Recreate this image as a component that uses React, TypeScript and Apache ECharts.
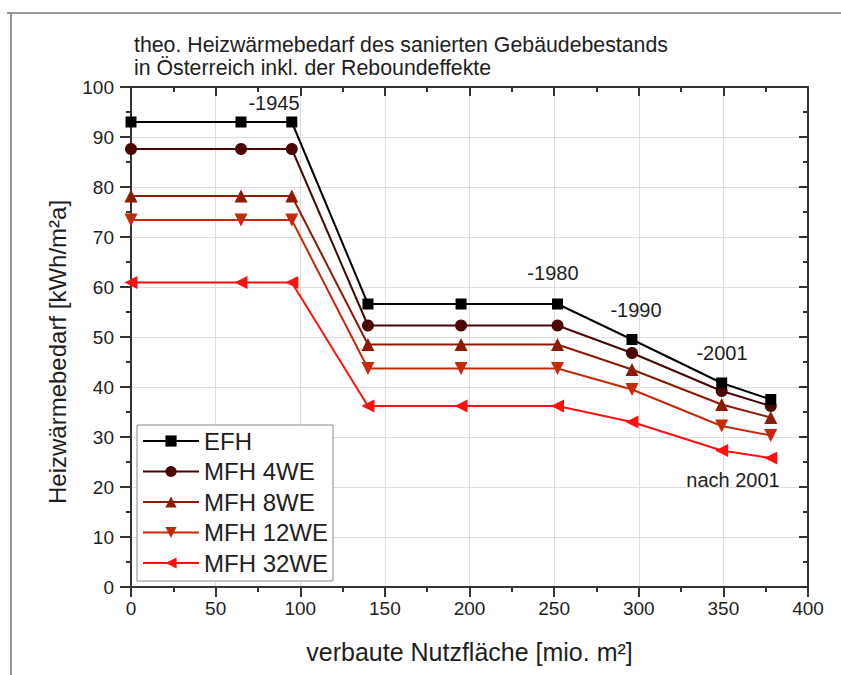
import React, { useEffect, useRef } from "react";
import * as echarts from "echarts";

const xValues = [0, 65, 95, 140, 195, 252, 296, 349, 378];
const seriesNames = ["EFH", "MFH 4WE", "MFH 8WE", "MFH 12WE", "MFH 32WE"];
const efh = [93, 93, 93, 56.6, 56.6, 56.6, 49.5, 40.8, 37.5];
const mfh4 = [87.6, 87.6, 87.6, 52.3, 52.3, 52.3, 46.8, 39.2, 36.2];
const mfh8 = [78.2, 78.2, 78.2, 48.5, 48.5, 48.5, 43.5, 36.5, 33.9];
const mfh12 = [73.4, 73.4, 73.4, 43.7, 43.7, 43.7, 39.5, 32.2, 30.3];
const mfh32 = [60.9, 60.9, 60.9, 36.2, 36.2, 36.2, 33.0, 27.3, 25.8];
const annoLabels = ["-1945", "-1980", "-1990", "-2001", "nach 2001"];
const annoX = [84.5, 249.3, 298.4, 349.2, 355.7];
const annoY = [96.8, 62.8, 55.4, 46.8, 21.4];

const FONT = "'Liberation Sans', Arial, Helvetica, sans-serif";
const TXT = "#1e1e1e";

export default function App() {
  const ref = useRef<HTMLDivElement>(null);
  useEffect(() => {
    if (!ref.current) return;
    const chart = echarts.init(ref.current, undefined, { renderer: "svg" });
    const colors = ["#000000", "#4a0505", "#8c1a05", "#c42a0a", "#ff1010"];
    const symbols = [
      "rect",
      "circle",
      "path://M5,0 L10,10 L0,10 Z",
      "path://M0,0 L10,0 L5,10 Z",
      "path://M0,5 L10,0 L10,10 Z",
    ];
    const sizes = [11, 12, 13, 13, 13];
    const values = [efh, mfh4, mfh8, mfh12, mfh32];
    const lineSeries = seriesNames.map((name, i) => ({
      name,
      type: "line",
      data: xValues.map((x, j) => [x, values[i][j]]),
      symbol: symbols[i],
      symbolSize: sizes[i],
      color: colors[i],
      lineStyle: { width: 2, color: colors[i] },
      itemStyle: { color: colors[i] },
      z: 10 - i,
      clip: false,
    }));
    const tickStyle = { color: "#333", width: 2 };
    const axisCommon = {
      type: "value",
      axisLine: { show: true, onZero: false, lineStyle: { color: "#333", width: 2 } },
    };
    chart.setOption({
      animation: false,
      textStyle: { fontFamily: FONT },
      title: {
        text: "theo. Heizwärmebedarf des sanierten Gebäudebestands\nin Österreich inkl. der Reboundeffekte",
        left: 134,
        top: 33,
        padding: 0,
        textStyle: { fontFamily: FONT, fontSize: 21.3, lineHeight: 23, fontWeight: "normal", color: TXT },
      },
      grid: { left: 131, right: 33, top: 87, bottom: 88, containLabel: false },
      legend: {
        data: seriesNames,
        orient: "vertical",
        left: 137,
        top: 425,
        itemWidth: 56,
        itemHeight: 14,
        itemGap: 6.5,
        padding: [4, 5, 6, 5],
        borderColor: "#888",
        borderWidth: 1,
        backgroundColor: "#fff",
        textStyle: { fontFamily: FONT, fontSize: 24, lineHeight: 24, color: TXT },
      },
      xAxis: [
        {
          ...axisCommon,
          position: "bottom",
          min: 0,
          max: 400,
          interval: 50,
          name: "verbaute Nutzfläche [mio. m²]",
          nameLocation: "middle",
          nameGap: 52,
          nameTextStyle: { fontFamily: FONT, fontSize: 25, color: TXT },
          axisTick: { show: true, inside: false, length: 10, lineStyle: tickStyle },
          minorTick: { show: true, splitNumber: 2, length: 5, lineStyle: tickStyle },
          axisLabel: { fontFamily: FONT, fontSize: 19, color: TXT, margin: 12 },
          splitLine: { show: true, lineStyle: { color: "#dedede", width: 1 } },
        },
        {
          ...axisCommon,
          position: "top",
          min: 0,
          max: 400,
          interval: 50,
          axisTick: { show: true, inside: true, length: 9, lineStyle: tickStyle },
          minorTick: { show: true, splitNumber: 2, length: 5, lineStyle: tickStyle },
          axisLabel: { show: false },
          splitLine: { show: false },
        },
      ],
      yAxis: [
        {
          ...axisCommon,
          position: "left",
          min: 0,
          max: 100,
          interval: 10,
          axisTick: { show: true, inside: false, length: 11, lineStyle: tickStyle },
          minorTick: { show: true, splitNumber: 2, length: 5, lineStyle: tickStyle },
          axisLabel: { fontFamily: FONT, fontSize: 19, color: TXT, margin: 17 },
          splitLine: { show: true, lineStyle: { color: "#dedede", width: 1 } },
        },
        {
          ...axisCommon,
          position: "right",
          min: 0,
          max: 100,
          interval: 10,
          axisTick: { show: true, inside: true, length: 9, lineStyle: tickStyle },
          minorTick: { show: true, splitNumber: 2, length: 5, lineStyle: tickStyle },
          axisLabel: { show: false },
          splitLine: { show: false },
        },
      ],
      series: [
        ...lineSeries,
        {
          name: "anno",
          type: "scatter",
          symbolSize: 0,
          silent: true,
          z: 20,
          itemStyle: { opacity: 1 },
          data: annoLabels.map((t, i) => ({ name: t, value: [annoX[i], annoY[i]] })),
          label: {
            show: true,
            position: "inside",
            formatter: (p: any) => p.name,
            fontFamily: FONT,
            fontSize: 20,
            color: TXT,
            opacity: 1,
          },
        },
      ],
      graphic: [
        { type: "line", shape: { x1: 7, y1: 13, x2: 841, y2: 13 }, style: { stroke: "#777", lineWidth: 1.5 } },
        { type: "line", shape: { x1: 11, y1: 13, x2: 11, y2: 675 }, style: { stroke: "#777", lineWidth: 1.5 } },
        {
          type: "text",
          x: 57,
          y: 352,
          rotation: Math.PI / 2,
          style: {
            text: "Heizwärmebedarf [kWh/m²a]",
            font: `24px ${FONT}`,
            fill: TXT,
            align: "center",
            verticalAlign: "middle",
          },
        },
      ],
    });
    return () => chart.dispose();
  }, []);
  return (
    <div
      ref={ref}
      style={{ position: "absolute", left: 0, top: 0, width: 841, height: 675, background: "#fff" }}
    />
  );
}
